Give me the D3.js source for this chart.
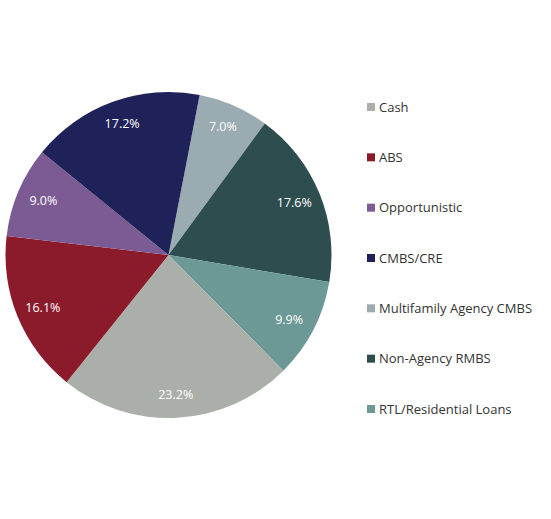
<!DOCTYPE html>
<html>
<head>
<meta charset="utf-8">
<script src="https://cdn.jsdelivr.net/npm/d3@7"></script>
<style>
body { margin: 0; background: #fff; }
</style>
</head>
<body>
<div id="chart"></div>
<script>
// pie order (clockwise from top)
const sliceNames = ['Multifamily Agency CMBS', 'Non-Agency RMBS', 'RTL/Residential Loans', 'Cash', 'ABS', 'Opportunistic', 'CMBS/CRE'];
const sliceValues = [7.0, 17.6, 9.9, 23.2, 16.1, 9.0, 17.2];
const legendNames = ['Cash', 'ABS', 'Opportunistic', 'CMBS/CRE', 'Multifamily Agency CMBS', 'Non-Agency RMBS', 'RTL/Residential Loans'];
const colors = {
    'Cash': '#aaafa9',
    'ABS': '#8b1a2b',
    'Opportunistic': '#7c5b94',
    'CMBS/CRE': '#1f2159',
    'Multifamily Agency CMBS': '#9aabb2',
    'Non-Agency RMBS': '#2e4d4f',
    'RTL/Residential Loans': '#6c9896'
};

const width = 551, height = 519;
const cx = 168.5, cy = 255, radius = 163;

const svg = d3.select('#chart').append('svg').attr('width', width).attr('height', height);

const data = sliceNames.map((name, i) => ({name: name, value: sliceValues[i]}));
const startAngle = 11 * Math.PI / 180;
const pie = d3.pie().sort(null).value(d => d.value)
    .startAngle(startAngle).endAngle(startAngle + 2 * Math.PI);
const arc = d3.arc().innerRadius(0).outerRadius(radius);
const labelArc = d3.arc().innerRadius(140).outerRadius(140);

const g = svg.append('g').attr('transform', `translate(${cx},${cy})`);
const arcs = pie(data);
g.selectAll('path').data(arcs).join('path')
    .attr('d', arc)
    .attr('fill', d => colors[d.data.name]);

g.selectAll('text').data(arcs).join('text')
    .attr('transform', d => {
        const c = labelArc.centroid(d);
        return `translate(${c[0] * 0.97},${c[1]})`;
    })
    .attr('text-anchor', 'middle')
    .attr('dy', '0.35em')
    .attr('fill', '#fff')
    .style('font', '12.5px "Open Sans", sans-serif')
    .text(d => d.data.value.toFixed(1) + '%');

const y = d3.scalePoint().domain(legendNames).range([107, 409]);
const legend = svg.append('g').selectAll('g').data(legendNames).join('g')
    .attr('transform', d => `translate(367,${y(d)})`);
legend.append('rect').attr('x', 0).attr('y', -4).attr('width', 8).attr('height', 8)
    .attr('fill', d => colors[d]);
legend.append('text').attr('x', 12).attr('dy', '0.35em')
    .attr('fill', '#333')
    .style('font', '13px "Open Sans", sans-serif')
    .text(d => d);
</script>
</body>
</html>
